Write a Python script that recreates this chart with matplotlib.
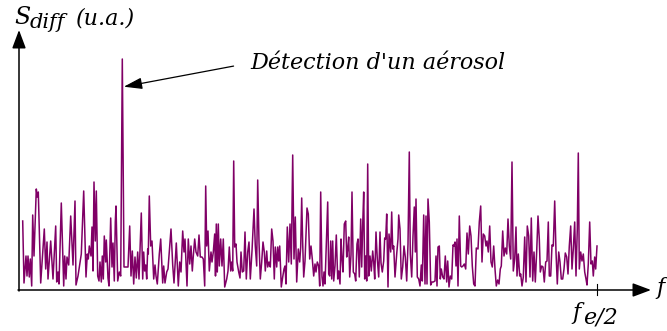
import matplotlib.pyplot as plt

# spectre différentiel : f en bins (fe/2 au bin 578), S_diff en unités arbitraires
freq = [3.7, 5, 7, 8, 9, 10.3, 11.3, 12.7, 13.7, 15, 17.3, 18.3, 19.3, 21.7, 25.3, 26.7, 28, 29, 31.7, 34,
        36.7, 37.7, 39, 40, 42.3, 44.7, 45.7, 47, 48, 49.7, 51.7, 54, 56, 57, 59, 62.3, 64.7, 67, 68.3, 69.3,
        70.3, 72, 73, 74, 75, 76.3, 77.3, 78.7, 80, 81, 82.3, 83.3, 84.3, 85.3, 86.7, 87.3, 89, 90, 91.7, 93,
        94, 95.3, 96.3,
        97, 98.7, 100.3, 101.7, 103.3, 105, 109, 110.7, 112, 113.3, 114.7, 116, 117.3, 118.7, 120, 122.3, 123.7,
        124.7, 125.7, 126.7, 127.7, 128.7, 129.3, 130.3, 131.7, 133, 134.7, 136, 137, 138.3, 140.3, 141.7,
        143.7, 144.7, 146, 147.7, 149, 150.7, 152, 153.7, 155, 157.3, 159.3, 160.7, 162, 163.7, 165, 166, 168,
        169.3, 170.7, 172, 173.3, 174.3, 175.7, 177, 178.7, 180, 181.3, 183, 184.3, 185.7, 186.7, 187.7, 189,
        190.3, 192, 193, 194.3, 195.7, 196.5, 197.3,
        198.3, 199.3, 200.3, 201.7, 203, 204.3, 205.7, 207.7, 209, 210.3, 211.7, 212.7, 213.7, 214.7, 215.7,
        217, 218, 219.7, 221, 222, 223.3, 224.7, 226, 227.3, 228.7, 230, 231.3, 233, 235, 236.3, 237.7, 238.7,
        240, 241.3, 242.7, 244, 245.3, 246.3, 247.7, 248.7, 250, 251.3, 252.7, 254, 255.3, 256.3, 257.7, 258.7,
        259.7, 260.7, 262.3, 263.7, 265, 266, 267, 268.3, 269.7, 271, 272.3, 273.7, 275, 276.3, 277.7, 279.3,
        280.7, 281.7, 282.7, 283.7, 284.7, 286, 288, 289.3, 290.7, 292, 293.3, 294.7, 296, 297,
        298.3, 299.7, 300.7, 301.7, 303, 304, 305, 306, 308.7, 309.7, 310.7, 311.7, 312.7, 313.7, 314.7, 316,
        317.3, 318.7, 319.7, 321, 322, 323, 324, 325.3, 326.7, 327.7, 328.7, 329.7, 330.7, 332, 333, 334.3,
        335.7, 336.7, 338, 339, 340.3, 341.7, 342.7, 343.7, 344.7, 345.7, 346.7, 347.7, 348.7, 349.7, 351,
        352.3, 353.7, 354.7, 355.7, 357, 358.3, 359.7, 361, 362, 363.3, 364.7, 365.7, 366.7, 367.7, 369, 370,
        371.7, 372.7, 373.7, 374.7, 376, 377.7, 379, 379.7, 381, 382.3, 383.7, 385, 386.3, 387.7, 389, 390.3,
        391.3, 392.7, 394, 395.3, 396.3,
        397, 398.3, 399.7, 401, 402.3, 403.3, 404.7, 406, 407, 408, 409, 410.3, 411.7, 413, 414.3, 416, 417,
        418, 419, 420.3, 421.3, 422.3, 423.7, 425, 426.3, 427.7, 428.7, 430, 431.3, 432.7, 434, 435, 436, 437,
        438, 439, 440.3, 441.7, 442.7, 444, 445.3, 446.7, 448, 449.3, 450.7, 452, 453.3, 454.7, 456, 457.3,
        459, 460.3, 461.7, 463, 464.3, 465.7, 467, 468, 469.3, 470.7, 472, 473.3, 474.7, 476, 477.3, 478.7,
        480, 481.3, 482.3, 483.7, 485, 486.3, 487.7, 489, 490.3, 491.7, 493, 494.3, 495.7, 497,
        498, 499.3, 500.7, 501.7, 503, 504.3, 505.7, 507, 508.3, 509.7, 511, 512.3, 513.7, 515, 516.3, 517.7,
        519, 520.3, 521.3, 522.7, 524, 525.3, 526.7, 528, 529.3, 530.3, 531.7, 533, 534.3, 535.7, 537, 538.3,
        539.7, 541, 542.3, 543.7, 545, 546.3, 547.7, 549, 550.3, 551.7, 553, 554.3, 555.7, 557, 558.3, 559.3,
        560.3, 561.7, 563, 564.3, 565.7, 567, 568, 569.3, 570.7, 572, 573.3, 574.3, 575.7, 576.7, 578]

s_diff = [69, 7, 34, 14, 34, 13, 31, 4, 75, 34, 101, 93, 98, 7, 61, 21, 48, 11, 49, 11,
          64, 8, 18, 6, 87, 4, 34, 11, 33, 25, 74, 25, 89, 5, 14, 36, 99, 13, 36, 31,
          44, 34, 63, 19, 108, 49, 99, 14, 9, 28, 8, 34, 11, 54, 28, 50, 12, 4, 72, 23,
          47, 9, 68,
          84, 9, 18, 14, 231, 23, 23, 64, 14, 39, 6, 33, 12, 38, 11, 77, 11,
          38, 19, 25, 11, 41, 36, 94, 44, 49, 11, 25, 14, 6, 36, 51,
          7, 24, 7, 18, 21, 43, 61, 25, 7, 47, 4, 28, 18, 59, 38, 51, 4,
          51, 26, 44, 19, 34, 51, 38, 34, 55, 33, 33, 31, 4, 104, 44, 59,
          19, 38, 28, 38, 56, 14, 66,
          18, 66, 24, 51, 24, 51, 3, 11, 19, 43, 19, 28, 19, 129, 43,
          46, 28, 18, 12, 38, 18, 19, 58, 11, 38, 48, 11, 39, 81, 44, 24, 110,
          48, 11, 28, 48, 38, 19, 39, 23, 28, 23, 61, 49, 11, 43, 23, 43,
          29, 44, 3, 13, 21, 24, 6, 63, 28, 66, 26, 135, 31, 73, 8, 41,
          28, 43, 92, 46, 13, 29, 82, 76, 31, 44, 31, 14, 26, 18,
          28, 24, 4, 98, 13, 4, 18, 6, 88, 16, 14, 49, 11, 49, 9, 24,
          55, 11, 19, 6, 51, 31, 18, 66, 69, 33, 41, 53, 13, 35, 98, 18,
          16, 9, 46, 51, 13, 71, 23, 65, 98, 11, 34, 9, 126, 14, 34,
          19, 39, 28, 11, 58, 31, 13, 58, 27, 18, 29, 52, 51, 76, 3, 56,
          38, 78, 41, 44, 13, 36, 51, 75, 61, 11, 23, 44, 33, 9, 46, 138,
          36, 13, 54, 83, 38,
          91, 13, 11, 4, 25, 9, 75, 6, 74, 6, 91, 68, 5, 8, 8, 9, 34,
          4, 43, 44, 11, 21, 13, 11, 34, 8, 29, 3, 14, 11, 45, 44, 48, 24,
          51, 4, 74, 24, 23, 24, 26, 21, 57, 36, 64, 54, 24, 6, 4, 42,
          41, 68, 84, 28, 56, 54, 44, 49, 38, 64, 28, 23, 44, 21, 4, 10,
          6, 21, 24, 59, 34, 42, 36, 71, 44, 31, 128, 19, 31, 63,
          14, 36, 14, 16, 4, 13, 53, 8, 64, 54, 13, 72, 9, 38, 8, 39,
          74, 51, 18, 24, 23, 8, 28, 29, 68, 14, 14, 45, 44, 89, 38, 6,
          38, 28, 11, 11, 21, 37, 33, 16, 44, 64, 21, 41, 68, 14, 61, 137,
          21, 38, 29, 36, 18, 11, 5, 26, 68, 26, 29, 14, 33, 21, 44]

fe_half = 578
line_color = '#800066'
serif = dict(family='DejaVu Serif', style='italic', color='black')

fig = plt.figure(figsize=(6.67, 3.31), dpi=100)
ax = fig.add_axes([0, 0, 1, 1])
ax.set_xlim(-19, 648)
ax.set_ylim(-41, 290)
ax.axis('off')

ax.plot(freq, s_diff, color=line_color, lw=1.1)

# axes avec flèches
arrow = dict(arrowstyle='-|>,head_length=0.8,head_width=0.3', color='black', lw=1.1,
             mutation_scale=14, shrinkA=0, shrinkB=0)
ax.annotate('', xy=(632, 0), xytext=(-1, 0), arrowprops=arrow)
ax.annotate('', xy=(0, 260), xytext=(0, -1), arrowprops=arrow)
ax.plot([fe_half, fe_half], [-5, 6], color='black', lw=0.8)

ax.text(637, -4, 'f', fontsize=16, ha='left', va='baseline', **serif)
ax.text(fe_half - 25, -29, 'f', fontsize=16, ha='left', va='baseline', **serif)
ax.text(fe_half - 14, -34, 'e/2', fontsize=16, ha='left', va='baseline', **serif)

ax.text(-5, 266, 'S', fontsize=17, ha='left', va='baseline', **serif)
ax.text(11, 262, 'diff', fontsize=15, ha='left', va='baseline', **serif)
ax.text(57, 265, '(u.a.)', fontsize=16, ha='left', va='baseline', **serif)

# pic de détection
i_peak = s_diff.index(max(s_diff))
ax.annotate("Détection d'un aérosol", xy=(freq[i_peak] + 1.5, s_diff[i_peak] * 0.88),
            xytext=(231, 221), fontsize=16, ha='left', va='baseline', **serif,
            arrowprops=dict(arrowstyle='-|>,head_length=0.8,head_width=0.25', color='black',
                            lw=0.9, mutation_scale=14, shrinkA=10, shrinkB=0,
                            relpos=(0, 0.5)))

fig.savefig('out.png', dpi=100)
